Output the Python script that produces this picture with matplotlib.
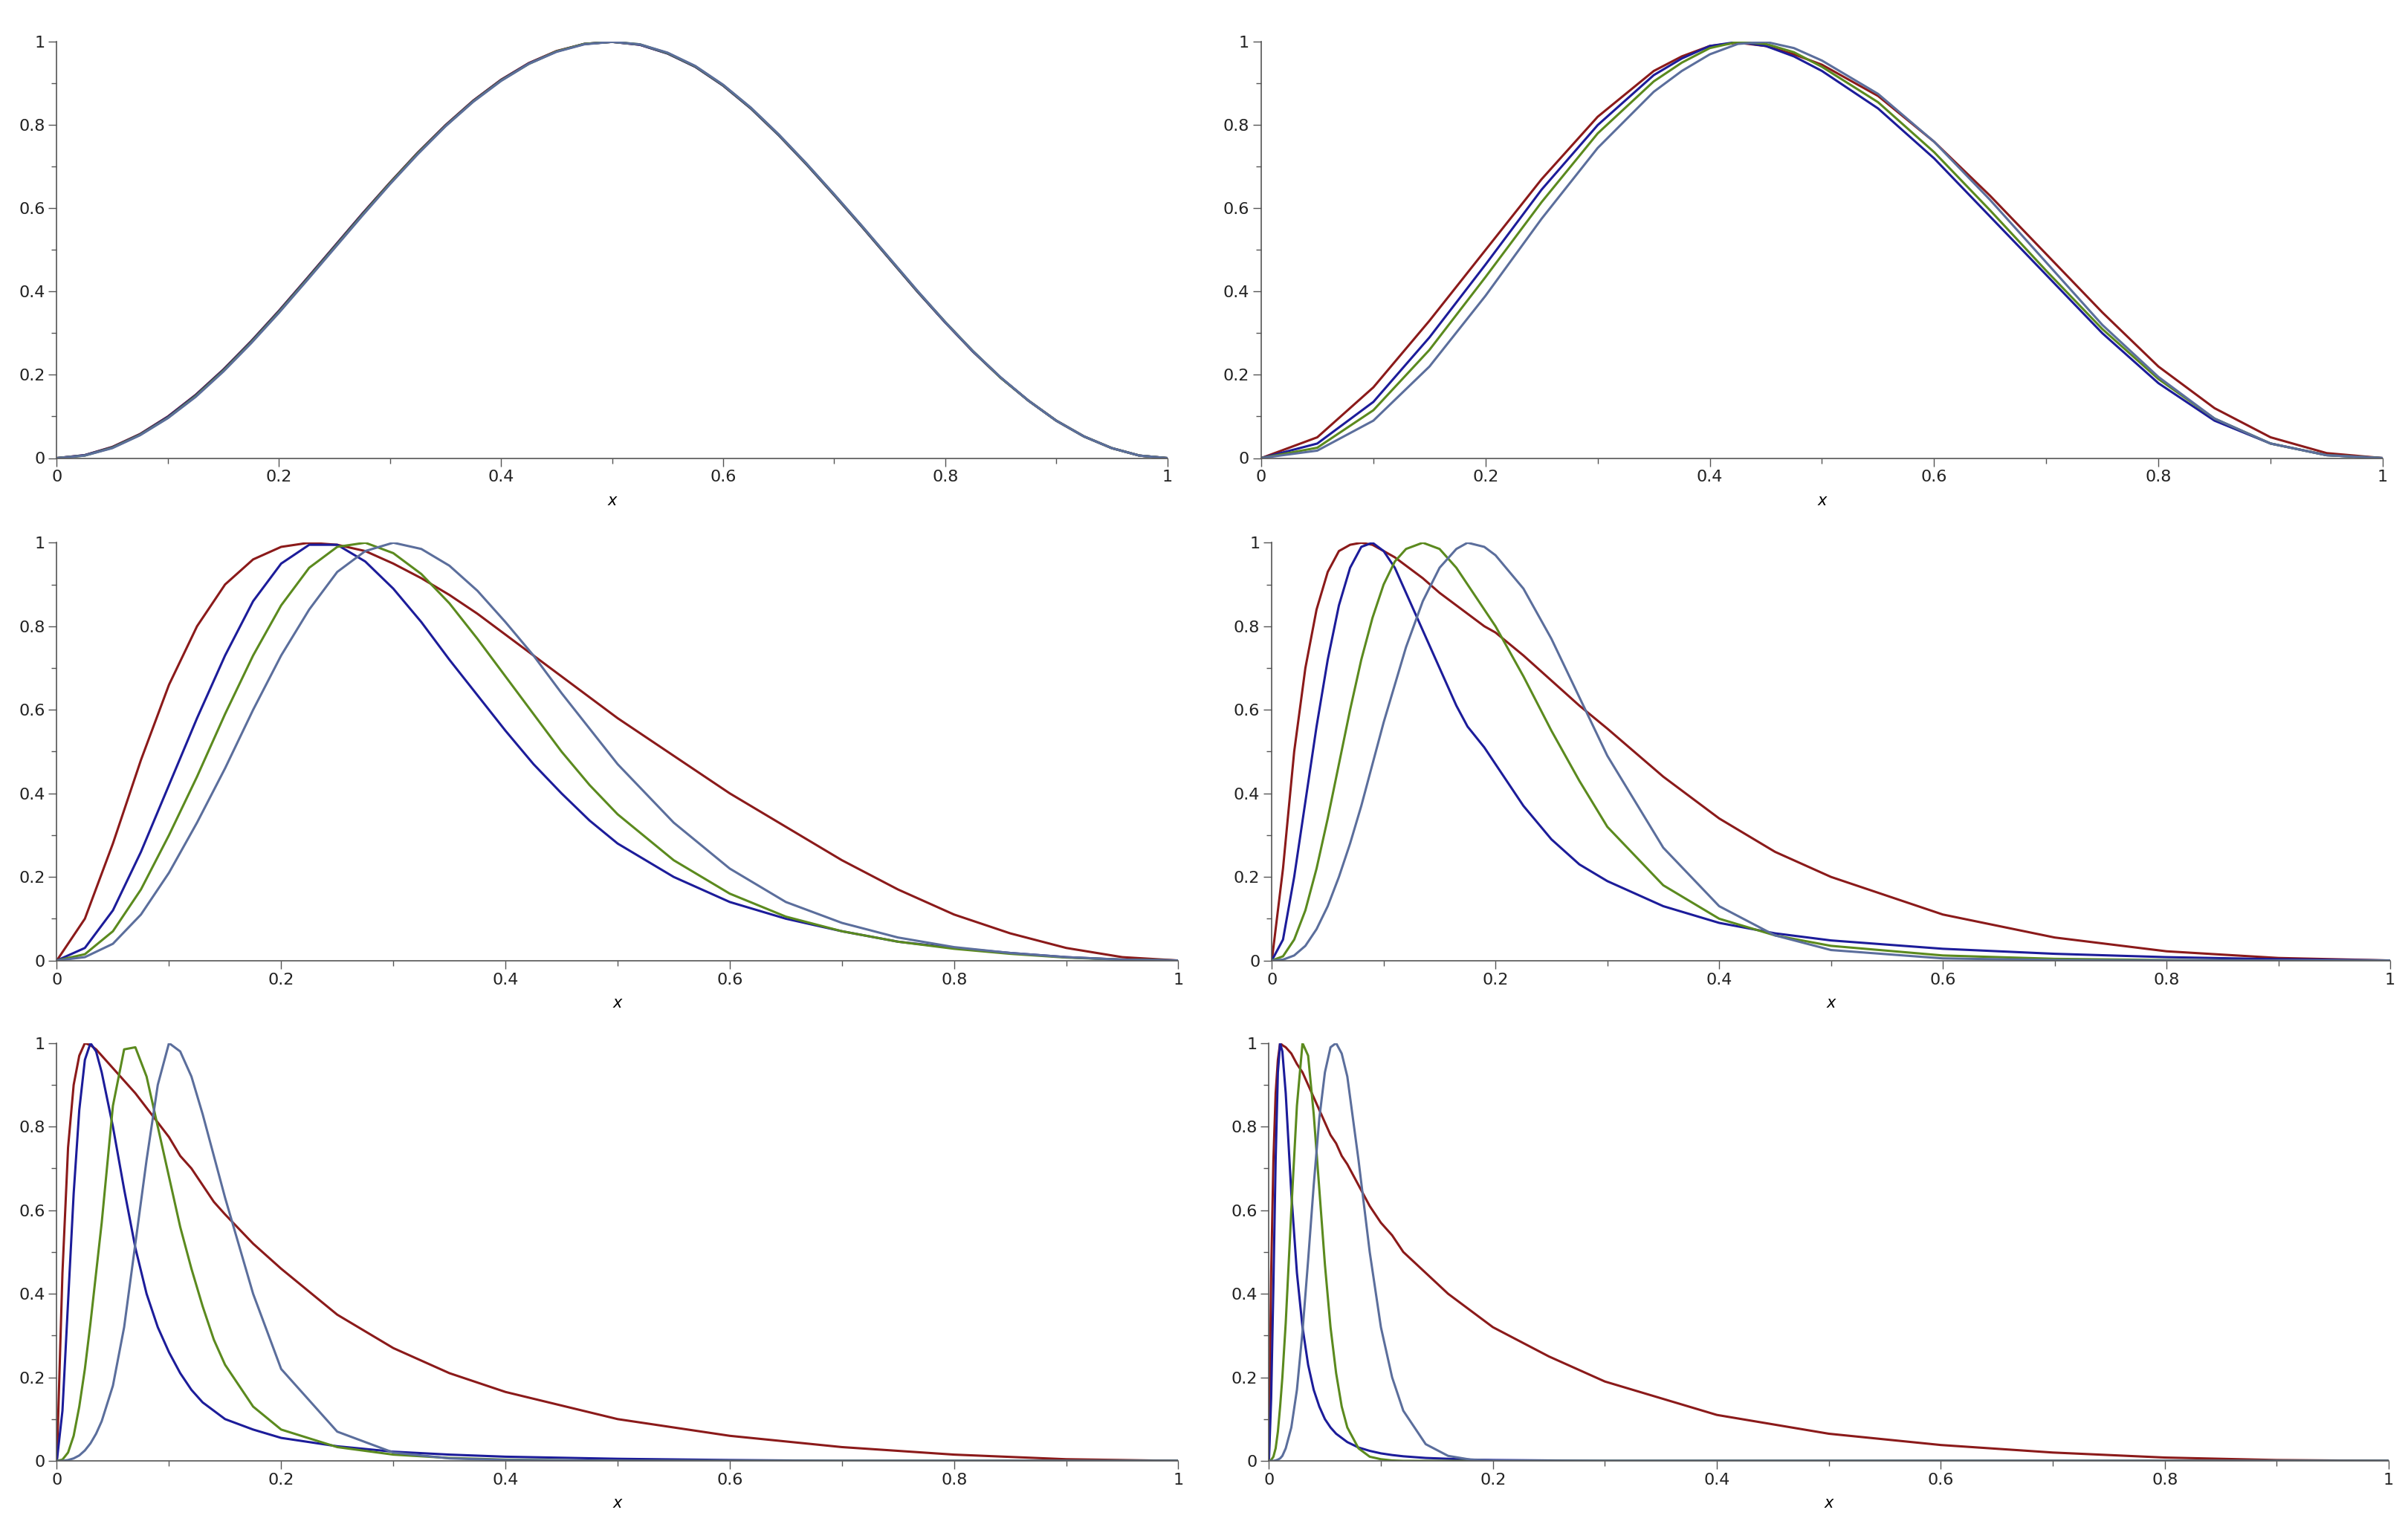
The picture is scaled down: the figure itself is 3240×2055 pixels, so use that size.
import matplotlib
matplotlib.use("Agg")
import matplotlib.pyplot as plt
from matplotlib.ticker import MultipleLocator, FormatStrFormatter

colors = {"red": "#8b1a1a", "blue": "#1c1c9a", "green": "#5b8a1e", "slate": "#5b6e9c"}

# Panel 1 (x step 0.025)
x1 = [k / 40 for k in range(41)]
p1_red = [0, .007, .027, .058, .100, .152, .213, .281, .354, .431, .509, .587, .662, .734, .800, .859, .909, .949, .978, .995, 1.0,
          .993, .972, .940, .895, .840, .776, .706, .632, .556, .478, .400, .326, .256, .193, .138, .090, .052, .024, .006, 0]
p1_blue = [0, .007, .026, .057, .099, .151, .212, .280, .353, .430, .508, .586, .661, .733, .799, .858, .908, .948, .977, .995, 1.0,
           .993, .972, .940, .895, .840, .776, .706, .632, .556, .478, .400, .326, .256, .193, .138, .090, .052, .024, .006, 0]
p1_green = [0, .006, .025, .056, .097, .149, .210, .278, .351, .428, .506, .584, .660, .732, .798, .857, .907, .947, .977, .995, 1.0,
            .994, .973, .941, .896, .841, .777, .707, .633, .557, .479, .401, .327, .257, .193, .138, .090, .052, .024, .006, 0]
p1_slate = [0, .006, .024, .055, .096, .147, .208, .276, .349, .426, .504, .582, .658, .730, .797, .856, .906, .947, .976, .994, 1.0,
            .994, .974, .942, .897, .842, .778, .708, .634, .558, .480, .402, .327, .257, .194, .138, .090, .052, .024, .006, 0]

# Panel 2
x2 = [0, .05, .1, .15, .2, .25, .3, .35, .375, .4, .425, .45, .475, .5, .55, .6, .65, .7, .75, .8, .85, .9, .95, 1]
p2_red = [0, .05, .17, .33, .5, .67, .82, .93, .965, .99, .998, .99, .97, .945, .87, .76, .63, .49, .35, .22, .12, .05, .012, 0]
p2_blue = [0, .035, .135, .29, .465, .645, .8, .92, .96, .99, 1.0, .99, .965, .93, .84, .72, .58, .44, .3, .18, .09, .035, .007, 0]
p2_green = [0, .025, .115, .26, .435, .615, .78, .905, .95, .985, 1.0, .995, .975, .94, .855, .735, .595, .45, .31, .19, .095, .035, .007, 0]
p2_slate = [0, .018, .09, .22, .39, .575, .745, .88, .93, .97, .995, 1.0, .985, .955, .875, .76, .62, .47, .32, .195, .095, .035, .007, 0]

# Panel 3
x3 = [0, .025, .05, .075, .1, .125, .15, .175, .2, .225, .25, .275, .3, .325, .35, .375, .4, .425, .45, .475, .5,
      .55, .6, .65, .7, .75, .8, .85, .9, .95, 1]
p3_red = [0, .10, .28, .48, .66, .80, .90, .96, .99, 1.0, .995, .98, .95, .915, .875, .83, .78, .73, .68, .63, .58,
          .49, .40, .32, .24, .17, .11, .065, .03, .008, 0]
p3_blue = [0, .03, .12, .26, .42, .58, .73, .86, .95, .995, .995, .955, .89, .81, .72, .635, .55, .47, .40, .335, .28,
           .2, .14, .10, .07, .045, .03, .018, .008, .002, 0]
p3_green = [0, .015, .07, .17, .30, .44, .59, .73, .85, .94, .99, 1.0, .975, .925, .855, .77, .68, .59, .50, .42, .35,
            .24, .16, .105, .07, .045, .028, .016, .007, .002, 0]
p3_slate = [0, .008, .04, .11, .21, .33, .46, .6, .73, .84, .93, .98, 1.0, .985, .945, .885, .81, .73, .64, .555, .47,
            .33, .22, .14, .09, .055, .032, .018, .008, .002, 0]

# Panel 4
x4 = [0, .01, .02, .03, .04, .05, .06, .07, .08, .09, .1, .11, .12, .135, .15, .165, .175, .19, .2, .225, .25, .275, .3,
      .35, .4, .45, .5, .6, .7, .8, .9, 1]
p4_red = [0, .22, .5, .7, .84, .93, .98, .995, 1.0, .995, .98, .965, .945, .915, .88, .85, .83, .80, .785, .73, .67, .61, .555,
          .44, .34, .26, .2, .11, .055, .022, .006, 0]
p4_blue = [0, .05, .2, .38, .56, .72, .85, .94, .99, 1.0, .98, .94, .88, .79, .70, .61, .56, .51, .47, .37, .29, .23, .19,
           .13, .09, .065, .048, .028, .016, .008, .003, 0]
p4_green = [0, .01, .05, .12, .22, .34, .47, .6, .72, .82, .9, .955, .985, 1.0, .985, .94, .9, .84, .8, .68, .55, .43, .32,
            .18, .1, .06, .035, .012, .004, .001, 0, 0]
p4_slate = [0, .002, .012, .035, .075, .13, .2, .28, .37, .47, .57, .66, .75, .86, .94, .985, 1.0, .99, .97, .89, .77, .63, .49,
            .27, .13, .06, .025, .005, .001, 0, 0, 0]

# Panel 5
x5 = [0, .005, .01, .015, .02, .025, .03, .035, .04, .05, .06, .07, .08, .09, .1, .11, .12, .13, .14, .15, .175, .2,
      .25, .3, .35, .4, .5, .6, .7, .8, .9, 1]
p5_red = [0, .45, .75, .9, .97, 1.0, .995, .985, .97, .94, .91, .88, .845, .81, .775, .73, .70, .66, .62, .59, .52, .46,
          .35, .27, .21, .165, .1, .06, .033, .015, .004, 0]
p5_blue = [0, .12, .38, .64, .84, .96, 1.0, .98, .93, .8, .65, .51, .40, .32, .26, .21, .17, .14, .12, .10, .075, .055,
           .035, .022, .015, .01, .005, .002, 0, 0, 0, 0]
p5_green = [0, .003, .02, .06, .13, .22, .33, .45, .57, .85, .985, .99, .92, .8, .68, .56, .46, .37, .29, .23, .13, .075,
            .033, .015, .007, .003, 0, 0, 0, 0, 0, 0]
p5_slate = [0, 0, .002, .006, .013, .025, .042, .065, .095, .18, .32, .52, .72, .9, 1.0, .98, .92, .83, .73, .63, .40, .22,
            .07, .02, .006, .002, 0, 0, 0, 0, 0, 0]

# Panel 6
x6 = [0, .002, .004, .006, .008, .01, .012, .015, .02, .025, .03, .035, .04, .045, .05, .055, .06, .065, .07, .08, .09,
      .1, .11, .12, .14, .16, .18, .2, .25, .3, .4, .5, .6, .7, .8, .9, 1]
p6_red = [0, .45, .72, .88, .96, 1.0, .995, .99, .975, .95, .93, .9, .87, .84, .81, .78, .76, .73, .71, .66, .61,
          .57, .54, .5, .45, .4, .36, .32, .25, .19, .11, .065, .038, .02, .008, .002, 0]
p6_blue = [0, .15, .42, .72, .93, 1.0, .98, .88, .64, .45, .32, .23, .17, .13, .1, .08, .065, .055, .045, .032, .024,
           .018, .014, .011, .007, .005, .003, .002, .001, 0, 0, 0, 0, 0, 0, 0, 0]
p6_green = [0, .002, .01, .03, .07, .13, .2, .33, .6, .85, 1.0, .97, .83, .65, .47, .32, .21, .13, .08, .03, .01,
            .004, .001, 0, 0, 0, 0, 0, 0, 0, 0, 0, 0, 0, 0, 0, 0]
p6_slate = [0, 0, 0, .001, .003, .006, .012, .03, .08, .17, .31, .48, .66, .82, .93, .99, 1.0, .975, .92, .72, .5,
            .32, .2, .12, .04, .012, .003, .001, 0, 0, 0, 0, 0, 0, 0, 0, 0]

panels = [
    (x1, [p1_red, p1_blue, p1_green, p1_slate]),
    (x2, [p2_red, p2_blue, p2_green, p2_slate]),
    (x3, [p3_red, p3_blue, p3_green, p3_slate]),
    (x4, [p4_red, p4_blue, p4_green, p4_slate]),
    (x5, [p5_red, p5_blue, p5_green, p5_slate]),
    (x6, [p6_red, p6_blue, p6_green, p6_slate]),
]
order = ["red", "blue", "green", "slate"]

positions = [
    [0.0236, 0.700, 0.461, 0.2726],
    [0.5236, 0.700, 0.4656, 0.2726],
    [0.0236, 0.371, 0.4656, 0.2736],
    [0.528, 0.371, 0.4643, 0.2736],
    [0.0236, 0.0433, 0.4656, 0.2736],
    [0.5268, 0.0433, 0.4649, 0.2736],
]

fig = plt.figure(figsize=(32.41, 20.55), dpi=100)
for (xs, ys), pos in zip(panels, positions):
    ax = fig.add_axes(pos)
    for name, y in zip(order, ys):
        ax.plot(xs, y, color=colors[name], lw=2.2, solid_joinstyle="round")
    ax.set_xlim(0, 1)
    ax.set_ylim(0, 1)
    for s in ["top", "right"]:
        ax.spines[s].set_visible(False)
    for s in ["left", "bottom"]:
        ax.spines[s].set_color("#555555")
        ax.spines[s].set_linewidth(1.2)
    ax.xaxis.set_major_locator(MultipleLocator(0.2))
    ax.xaxis.set_minor_locator(MultipleLocator(0.1))
    ax.yaxis.set_major_locator(MultipleLocator(0.2))
    ax.yaxis.set_minor_locator(MultipleLocator(0.1))
    ax.xaxis.set_major_formatter(FormatStrFormatter("%g"))
    ax.yaxis.set_major_formatter(FormatStrFormatter("%g"))
    ax.tick_params(which="major", length=8, width=1, color="#555555", labelsize=16, colors="#222222")
    ax.tick_params(which="minor", length=5, width=1, color="#555555")
    ax.set_xlabel("x", fontstyle="italic", fontsize=15, labelpad=8)

fig.savefig("out.png", dpi=100)
